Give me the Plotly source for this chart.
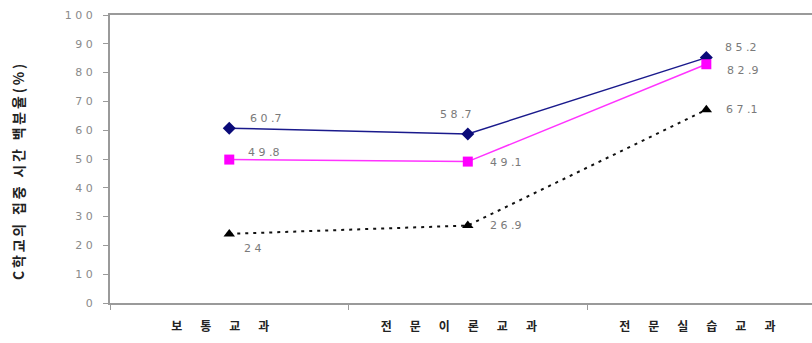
import plotly.graph_objects as go

categories = ["보 통 교 과", "전 문 이 론 교 과", "전 문 실 습 교 과"]
series_a = [60.7, 58.7, 85.2]
series_b = [49.8, 49.1, 82.9]
series_c = [24, 26.9, 67.1]
y_ticks = [0, 10, 20, 30, 40, 50, 60, 70, 80, 90, 100]
y_tick_text = [" ".join(str(v)) for v in y_ticks]
y_title = "C학교의 집중 시간 백분율(%)"

WIDE = "\u2003\u2002"
THIN = "\u2009"

fig = go.Figure()

fig.add_trace(go.Scatter(
    x=categories, y=series_a, mode="lines+markers",
    line=dict(color="#1a1a8c", width=1.5),
    marker=dict(symbol="diamond", size=10, color="#0a0a78"),
    showlegend=False,
))
fig.add_trace(go.Scatter(
    x=categories, y=series_b, mode="lines+markers",
    line=dict(color="#ff33ff", width=1.5),
    marker=dict(symbol="square", size=10, color="#ff00ff"),
    showlegend=False,
))
fig.add_trace(go.Scatter(
    x=categories, y=series_c, mode="lines+markers",
    line=dict(color="#111111", width=2, dash="3px,5px"),
    marker=dict(symbol="triangle-up", size=10, color="#000000"),
    showlegend=False,
))


def spaced(v):
    s = f"{v}"
    return " ".join(s).replace(" . ", " .")


# value labels: (series, per-point pixel offsets)
label_offsets = [
    (series_a, [(37, 10), (-12, 19), (35, 10)]),
    (series_b, [(35, 7), (38, -1), (37, -6)]),
    (series_c, [(24, -15), (38, 0), (36, 0)]),
]
for values, offs in label_offsets:
    for cat, v, (dx, dy) in zip(categories, values, offs):
        fig.add_annotation(
            x=cat, y=v, text=spaced(v), showarrow=False,
            xshift=dx, yshift=dy,
            font=dict(family="DejaVu Sans", size=11, color="#7a7a7a"),
        )

# rotated y-axis title, letter-spaced
fig.add_annotation(
    xref="paper", yref="paper", x=0, y=0.5, xanchor="center", yanchor="middle",
    xshift=-92, yshift=-13, textangle=-90, showarrow=False,
    text=THIN.join(y_title),
    font=dict(family="Noto Sans CJK KR", size=14, color="#222222", weight="bold"),
)

fig.update_layout(
    width=812, height=343,
    margin=dict(l=110, r=0, t=15, b=40),
    paper_bgcolor="white", plot_bgcolor="white",
    font=dict(family="Noto Sans CJK KR"),
)
fig.update_xaxes(
    type="category", range=[-0.5, 2.443],
    tickvals=categories,
    ticktext=[c.replace(" ", WIDE) + WIDE for c in categories],
    showline=True, linecolor="#9a9a9a", linewidth=2, mirror=True,
    showgrid=False, zeroline=False,
    ticks="outside", tickson="boundaries", ticklen=5, tickcolor="#9a9a9a",
    ticklabelstandoff=12,
    tickfont=dict(family="Noto Sans CJK KR", size=12, color="#222222", weight="bold"),
)
fig.update_yaxes(
    range=[0, 100], tickvals=y_ticks, ticktext=y_tick_text,
    showline=True, linecolor="#9a9a9a", linewidth=2,
    showgrid=False, zeroline=False,
    ticks="outside", ticklen=5, tickcolor="#9a9a9a",
    ticklabelstandoff=8,
    tickfont=dict(family="DejaVu Sans", size=11, color="#8a8a8a"),
)

fig.write_html("out.html")
